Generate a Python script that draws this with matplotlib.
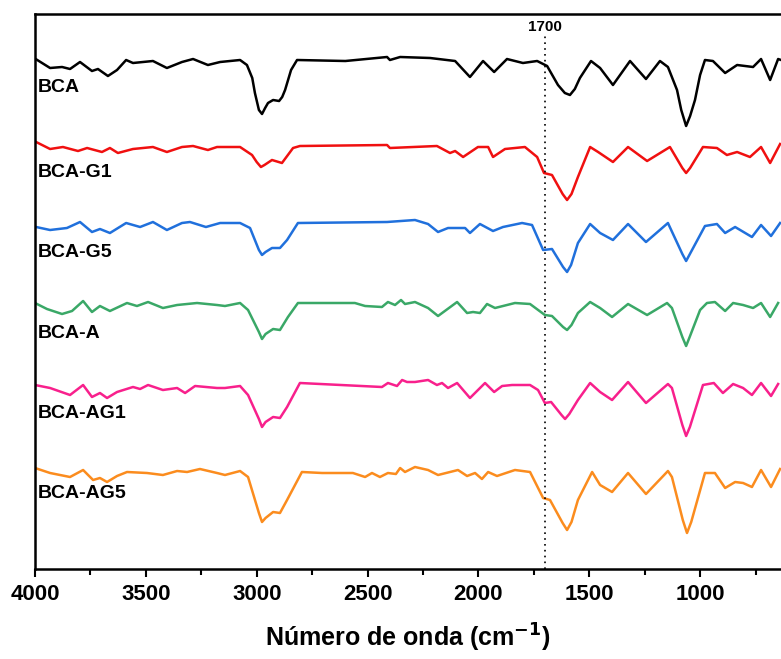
import numpy as np
import matplotlib
matplotlib.use("Agg")
import matplotlib.pyplot as plt
from matplotlib.ticker import MultipleLocator

plt.rcParams['font.family'] = ['Liberation Sans', 'DejaVu Sans']

# FTIR spectra (wavenumber in cm-1, relative transmittance in a.u.)
bca_wn = [3997, 3932, 3878, 3842, 3797, 3743, 3716, 3671, 3630, 3589, 3558, 3468, 3405, 3337, 3287,
          3220, 3165, 3075, 3044, 3020, 3008, 2990, 2976, 2962, 2949, 2926, 2899, 2885, 2872, 2845,
          2818, 2600, 2412, 2399, 2353, 2218, 2105, 2038, 1979, 1929, 1871, 1799, 1735, 1690, 1641,
          1610, 1587, 1565, 1542, 1492, 1451, 1393, 1316, 1244, 1181, 1145, 1104, 1085, 1063, 1045,
          1023, 1000, 978, 942, 887, 833, 761, 725, 684, 648, 635]
bca_t = [1, -8, -7, -9, -2, -11, -9, -16, -10, 0, -3, -1, -8, -2, 1,
         -5, -2, 0, -5, -18, -33, -50, -54, -48, -43, -40, -41, -37, -30, -10,
         0, -1, 3, 0, 3, 2, -1, -17, -1, -12, 1, -3, -1, -6, -25,
         -33, -35, -29, -18, -1, -8, -25, -1, -19, -1, -7, -30, -50, -66, -56,
         -40, -15, 0, -1, -13, -5, -7, 1, -20, 1, 0]

g1_wn = [3995, 3932, 3874, 3806, 3765, 3698, 3662, 3626, 3558, 3468, 3405, 3337, 3287, 3220, 3179,
         3075, 3021, 3000, 2981, 2965, 2931, 2886, 2836, 2805, 2412, 2399, 2187, 2128, 2105, 2069,
         2002, 1956, 1934, 1880, 1790, 1735, 1704, 1668, 1620, 1600, 1580, 1551, 1496, 1460, 1393,
         1325, 1239, 1136, 1080, 1063, 1045, 987, 924, 879, 833, 775, 725, 684, 639]
g1_t = [5, -2, 0, -4, -1, -5, -1, -6, -2, 0, -5, 0, 1, -3, 0,
        0, -8, -15, -20, -18, -13, -16, -1, 1, 2, -1, 1, -6, -4, -10,
        0, 0, -10, -2, 0, -10, -26, -28, -47, -53, -47, -30, 0, -5, -15,
        0, -14, 0, -21, -26, -21, 0, -1, -8, -5, -10, 0, -16, 3]

g5_wn = [3995, 3932, 3856, 3797, 3743, 3707, 3662, 3589, 3526, 3468, 3405, 3337, 3301, 3229, 3165,
         3075, 3030, 2990, 2976, 2960, 2931, 2895, 2863, 2814, 2412, 2286, 2227, 2182, 2137, 2060,
         2038, 1993, 1934, 1889, 1803, 1758, 1708, 1668, 1618, 1600, 1582, 1551, 1496, 1451, 1393,
         1325, 1244, 1145, 1080, 1063, 1046, 978, 924, 887, 842, 766, 725, 680, 639]
g5_t = [-3, -6, -4, 2, -8, -5, -9, 1, -3, 2, -6, 1, 2, -3, 1,
        1, -4, -26, -31, -28, -24, -24, -16, 1, 2, 4, 0, -8, -4, -4,
        -9, 0, -7, -3, 1, -1, -26, -25, -43, -48, -41, -19, 0, -9, -16,
        0, -18, 1, -30, -37, -30, -2, 0, -9, -3, -13, -1, -12, 1]

a_wn = [4000, 3946, 3878, 3833, 3783, 3743, 3707, 3662, 3585, 3540, 3490, 3423, 3359, 3269, 3179,
        3143, 3075, 3039, 2990, 2976, 2960, 2926, 2895, 2859, 2814, 2557, 2511, 2435, 2408, 2376,
        2349, 2331, 2286, 2227, 2182, 2096, 2051, 2024, 1993, 1961, 1925, 1889, 1835, 1767, 1700,
        1668, 1618, 1600, 1580, 1551, 1496, 1451, 1397, 1325, 1239, 1149, 1127, 1080, 1063, 1047,
        1000, 969, 933, 887, 851, 806, 761, 725, 684, 648]
a_t = [-1, -7, -12, -9, 1, -10, -4, -9, -1, -4, 0, -6, -3, -1, -3,
       -4, -1, -8, -30, -37, -32, -27, -28, -15, -1, -1, -4, -5, 0, -3,
       2, -2, 0, -6, -14, 0, -11, -10, -11, -2, -6, -4, -1, -2, -13,
       -14, -25, -28, -23, -11, 0, -6, -15, -2, -13, -1, -6, -35, -44, -35,
       -8, -1, 0, -9, -1, -3, -6, -1, -15, -1]

ag1_wn = [4000, 3932, 3842, 3783, 3743, 3707, 3675, 3630, 3558, 3526, 3490, 3423, 3359, 3323, 3278,
          3179, 3143, 3075, 3039, 2990, 2976, 2960, 2926, 2895, 2863, 2805, 2435, 2408, 2367, 2344,
          2322, 2286, 2227, 2187, 2164, 2137, 2096, 2038, 1970, 1929, 1893, 1848, 1767, 1731, 1700,
          1672, 1625, 1609, 1590, 1551, 1496, 1451, 1397, 1325, 1244, 1145, 1127, 1080, 1063, 1046,
          987, 938, 897, 851, 806, 766, 725, 680, 648]
ag1_t = [-2, -5, -12, -2, -14, -10, -15, -9, -4, -6, -2, -7, -5, -10, -3,
         -5, -5, -3, -12, -36, -44, -39, -34, -35, -24, 0, -4, 0, -3, 3,
         1, 1, 3, -2, 0, -5, 0, -15, 0, -9, -3, -2, -2, -7, -20,
         -19, -32, -36, -31, -17, 0, -9, -17, 1, -20, -1, -5, -42, -53, -44,
         -2, 0, -10, -1, -5, -12, 0, -13, -1]

ag5_wn = [4000, 3932, 3842, 3783, 3738, 3707, 3675, 3630, 3585, 3495, 3423, 3359, 3314, 3256, 3179,
          3143, 3075, 3039, 2990, 2976, 2960, 2926, 2895, 2863, 2796, 2705, 2566, 2511, 2480, 2444,
          2408, 2372, 2353, 2331, 2286, 2227, 2182, 2092, 2051, 2015, 1984, 1956, 1916, 1835, 1767,
          1708, 1677, 1620, 1600, 1580, 1551, 1487, 1451, 1397, 1325, 1244, 1145, 1127, 1078, 1059,
          1040, 978, 933, 887, 842, 806, 766, 725, 680, 639]
ag5_t = [0, -5, -9, -2, -12, -10, -14, -8, -4, -5, -7, -3, -4, -1, -5,
         -7, -3, -9, -45, -54, -50, -44, -45, -32, -4, -5, -5, -9, -5, -9,
         -5, -6, 0, -4, 1, -2, -7, -2, -8, -5, -11, -4, -8, -2, -4,
         -30, -32, -55, -62, -54, -32, -4, -17, -24, -5, -26, -3, -9, -52, -65,
         -54, -5, -5, -20, -14, -15, -19, -2, -19, -1]

names = ['BCA', 'BCA-G1', 'BCA-G5', 'BCA-A', 'BCA-AG1', 'BCA-AG5']
spectra_wn = [bca_wn, g1_wn, g5_wn, a_wn, ag1_wn, ag5_wn]
spectra_t = [bca_t, g1_t, g5_t, a_t, ag1_t, ag5_t]
offsets = [509, 422, 345, 267, 186, 101]
colors = ['#000000', '#f01010', '#2070dc', '#3aa867', '#f8208c', '#fb8c1e']
label_y = [482, 397, 317, 236, 156, 75]

fig = plt.figure(figsize=(7.81, 6.59), dpi=100)
ax = fig.add_axes([35 / 781, 90 / 659, 1 - 35 / 781, 555 / 659])

for wn, t, off, c, name, ly in zip(spectra_wn, spectra_t, offsets, colors, names, label_y):
    ax.plot(wn, np.array(t) + off, color=c, lw=1.8, solid_joinstyle='round')
    ax.text(3987, ly, name, fontsize=14, fontweight='bold', ha='left', va='center')

ax.axvline(1700, ymin=0, ymax=535 / 555, color='black', ls=(0, (1, 2.5)), lw=1.2)
ax.text(1700, 542, '1700', fontsize=11, fontweight='bold', ha='center', va='center')

ax.set_xlim(4000, 635)
ax.set_ylim(0, 555)
ax.set_yticks([])
ax.xaxis.set_major_locator(MultipleLocator(500))
ax.xaxis.set_minor_locator(MultipleLocator(250))
ax.tick_params(axis='x', which='major', direction='out', length=6, width=1.5, labelsize=16, pad=5)
ax.tick_params(axis='x', which='minor', direction='out', length=4, width=1.5)
for lab in ax.get_xticklabels():
    lab.set_fontweight('bold')
for s in ['left', 'bottom', 'top']:
    ax.spines[s].set_linewidth(1.8)
ax.spines['right'].set_visible(False)

ax.set_xlabel('Número de onda (cm$^{\\mathbf{-1}}$)', fontsize=18, fontweight='bold', labelpad=12)

fig.savefig('out.png', dpi=100)
